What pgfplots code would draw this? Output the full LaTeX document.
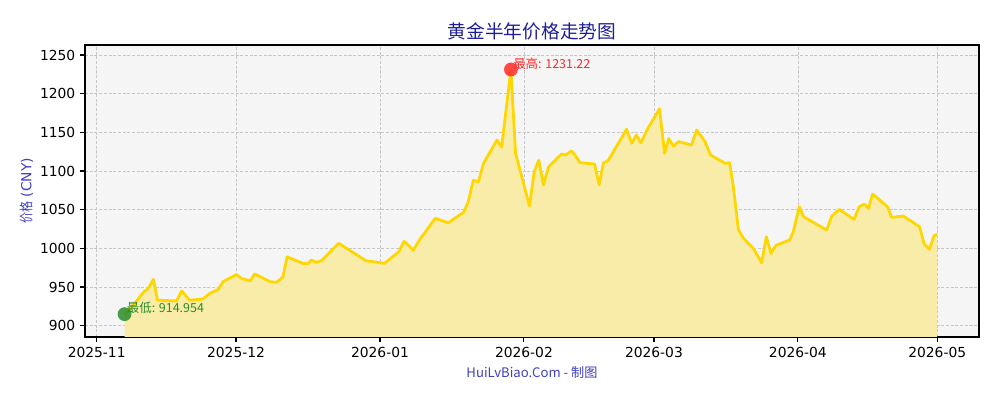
\documentclass[border=0pt]{standalone}
\usepackage{pgfplots}
\pgfplotsset{compat=1.18}
\usepackage{pgfplotstable}
\usepackage{fontspec}
\usepackage{graphicx}
\setmainfont{DejaVu Sans}
\newfontfamily\cjk{Noto Sans CJK SC}
\definecolor{goldline}{HTML}{FFD700}
\definecolor{goldfill}{HTML}{F8ECA8}
\definecolor{bgcol}{HTML}{F5F5F5}
\definecolor{titleblue}{HTML}{1E1E96}
\definecolor{labelblue}{HTML}{4040BF}
\definecolor{hired}{HTML}{FF2A2A}
\definecolor{logreen}{HTML}{2A8C2A}

\pgfplotstableread{
day price
6 914.954
8.2 929
10.2 944
11.1 948
12.2 960
13.1 933
17.2 932
18.3 945
20 933
22.9 934.5
24.4 942
26.2 947
27.2 957
30.1 966
31.2 961
33.1 958
34 967
37.3 957
38.7 956
40.1 963
41 989
44.4 980.6
45.5 980
46.2 985
47.3 982
48.4 984
52.1 1006.5
58 984
62 980.6
65.1 996
66.2 1009
68.2 997.8
69.6 1011.6
72.9 1038.8
75.7 1033
79 1046.5
80 1060
81.1 1088
82.2 1086
83.3 1110
86.2 1140
87.2 1131
89.2 1231.22
90.2 1123
93.2 1054.7
94.2 1099
95.2 1114
96.2 1082
97.3 1105.5
100.1 1122
101 1120.6
102.2 1126
103 1120.6
104.1 1110.7
107.2 1109
108.2 1082
109.1 1110
110.2 1114
114.1 1154
115.2 1135.8
116.2 1146.5
117.2 1136.5
118.5 1153
121.2 1180.5
122.3 1122.8
123.2 1142
124.2 1132
125.3 1138
128.1 1133.6
129.2 1153
131 1138
132.2 1120.6
135.3 1110
136.3 1110.7
137.1 1079.6
138.2 1023.7
139.3 1013
141.4 1000
143.2 981.4
144.2 1015
145.2 993.5
146.3 1004
149.2 1010.7
150 1021.5
151.3 1053.8
152.2 1040.9
157.2 1023.7
158.3 1041.8
159.9 1050.4
163.1 1037.5
164.2 1053.8
165.3 1057.3
166.2 1051.7
167.1 1070.2
170.3 1053.8
171.2 1040
173.7 1041.8
177.2 1028
178.2 1005.6
179.3 998.7
180.3 1016
181 1018.5
}\gold

\begin{document}
\begin{tikzpicture}
\begin{axis}[
  at={(0,0)}, anchor=south west,
  scale only axis, width=8.94in, height=2.92in,
  xmin=-2.52, xmax=190.0, ymin=885.4, ymax=1262.9,
  axis background/.style={fill=bgcol},
  xtick={0,30,61,92,120,151,181},
  xticklabels={2025-11,2025-12,2026-01,2026-02,2026-03,2026-04,2026-05},
  ytick={900,950,1000,1050,1100,1150,1200,1250},
  tick pos=left, tick align=outside,
  major tick length=3.5pt,
  grid=major,
  grid style={dash pattern=on 2.2pt off 1.2pt, color=black!22, line width=0.5pt},
  axis line style={line width=0.8pt},
  tick style={black, line width=0.8pt},
  ticklabel style={font=\fontsize{10}{12}\selectfont},
  /pgf/number format/assume math mode=true,
  /pgf/number format/1000 sep={},
  title={\fontsize{13.5}{15}\selectfont\cjk 黄金半年价格走势图},
  title style={color=titleblue, yshift=-6pt},
  xlabel={\cjk HuiLvBiao.Com - 制图},
  xlabel style={color=labelblue, font=\fontsize{9.5}{11}\selectfont, yshift=0pt},
  ylabel={{\cjk\scalebox{0.8}[1]{价格}} (CNY)},
  ylabel style={color=labelblue, font=\fontsize{10}{12}\selectfont, yshift=-2pt},
  clip=true,
]
\addplot[fill=goldfill, draw=none, forget plot] table[x=day, y=price] {\gold} \closedcycle;
\addplot[only marks, mark=*, mark size=5pt, mark options={draw=hired, draw opacity=0, fill=hired, fill opacity=0.85}, forget plot] coordinates {(89.2,1231.22)};
\addplot[only marks, mark=*, mark size=5pt, mark options={draw=logreen, draw opacity=0, fill=logreen, fill opacity=0.85}, forget plot] coordinates {(6,914.954)};
\addplot[color=goldline, line width=2pt, line join=round, forget plot] table[x=day, y=price] {\gold};
\node[anchor=south west, inner sep=0pt, xshift=1.5pt, text=hired, font=\cjk\fontsize{9}{10}\selectfont] at (axis cs:89.2,1231.22) {最高: 1231.22};
\node[anchor=south west, inner sep=0pt, xshift=1.5pt, text=logreen, font=\cjk\fontsize{9}{10}\selectfont] at (axis cs:6,914.954) {最低: 914.954};
\end{axis}
\pgfresetboundingbox
\path (-0.85in,-0.63in) rectangle (9.15in,3.37in);
\end{tikzpicture}
\end{document}
